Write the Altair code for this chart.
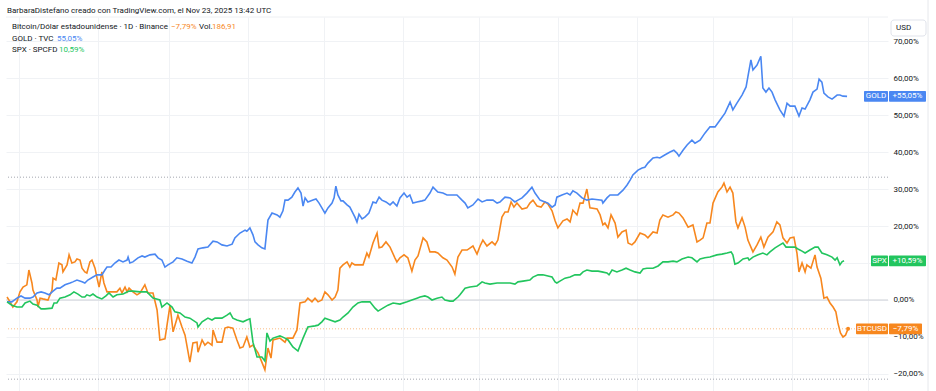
import altair as alt
import pandas as pd

# ---- data (day = days since 2025-01-01, pct = % change) ----
btc_points = [(-4.7,0.8),(-3.5,-0.5),(-2.4,-1.9),(-0.8,-0.5),(0.4,2.2),(1.6,3.5),(3.1,4.1),(3.9,8.1),(5.1,4.6),(5.5,2.7),(7.1,0.0),(7.5,-1.9),(8.3,0.5),(9.4,0.3),(11.4,0.0),(13.0,2.7),(13.4,5.9),(14.5,5.4),(15.7,10.0),(16.9,9.5),(17.3,7.6),(18.9,9.5),(19.7,12.2),(20.8,10.0),(22.0,10.3),(22.8,11.1),(24.0,10.8),(24.8,8.6),(25.9,7.6),(26.7,7.3),(27.9,10.3),(28.7,10.8),(29.9,8.6),(30.7,5.9),(31.5,3.5),(32.6,7.6),(33.4,4.6),(34.6,2.2),(36.6,2.2),(38.5,2.2),(39.7,3.2),(40.5,1.9),(41.7,3.5),(42.5,2.2),(43.3,3.2),(44.8,2.2),(46.4,1.4),(47.6,1.9),(49.5,4.1),(50.7,1.9),(52.7,1.9),(54.3,-2.7),(55.4,-10.8),(57.4,-10.5),(59.4,-1.4),(60.6,-8.6),(62.5,-4.1),(64.1,-7.3),(65.3,-9.5),(67.2,-16.8),(68.4,-11.6),(70.0,-11.4),(70.4,-14.1),(72.0,-10.8),(73.1,-12.2),(74.3,-11.4),(75.9,-12.2),(76.3,-8.1),(77.9,-11.4),(79.8,-11.4),(81.0,-7.6),(82.2,-7.3),(84.1,-7.6),(85.7,-10.8),(86.9,-13.0),(88.1,-12.7),(89.6,-10.0),(90.8,-12.7),(92.0,-12.2),(94.0,-14.3),(95.5,-16.8),(96.7,-18.9),(97.9,-13.0),(99.1,-15.7),(99.9,-10.8),(102.6,-10.3),(104.6,-11.4),(105.4,-10.3),(107.7,-10.3),(109.3,-8.1),(110.5,-0.8),(112.5,-0.5),(113.6,0.5),(115.2,-0.5),(116.4,0.5),(117.6,-0.5),(119.1,0.0),(120.3,2.2),(121.5,1.4),(123.1,0.0),(124.3,0.8),(125.4,2.7),(126.2,8.6),(127.4,9.5),(129.0,10.3),(130.1,8.9),(130.9,10.0),(132.1,9.5),(133.3,9.5),(135.3,9.5),(136.8,12.7),(137.6,11.6),(139.2,15.4),(140.8,18.1),(141.6,14.1),(142.7,14.3),(144.3,15.7),(145.9,14.3),(147.8,11.4),(148.6,10.3),(149.8,11.4),(151.4,12.2),(152.9,11.4),(154.5,7.8),(155.7,10.8),(156.9,11.9),(158.9,16.8),(160.4,15.7),(161.6,13.0),(163.6,13.0),(164.7,12.7),(166.7,11.4),(168.3,10.8),(170.3,8.9),(171.4,7.0),(172.6,11.6),(174.2,13.5),(176.2,13.5),(178.5,14.6),(180.1,12.4),(181.3,14.6),(182.4,16.2),(184.0,14.6),(186.0,15.7),(187.2,14.9),(188.3,16.2),(189.9,22.4),(191.1,23.8),(192.3,23.8),(193.5,26.5),(194.6,25.1),(195.8,26.2),(197.8,24.6),(199.7,24.9),(200.9,26.2),(202.1,27.0),(203.7,25.4),(205.3,25.1),(206.8,26.5),(208.0,25.9),(209.6,24.1),(210.8,21.4),(211.9,19.5),(213.9,21.4),(215.5,21.9),(216.7,21.1),(217.8,24.3),(219.4,23.0),(220.6,26.2),(221.8,26.2),(223.3,30.0),(224.5,24.9),(227.3,24.6),(228.5,23.0),(229.6,20.3),(230.4,20.8),(231.6,19.5),(232.8,23.0),(234.4,20.8),(235.5,17.0),(237.1,18.4),(238.7,18.9),(239.5,15.4),(241.0,14.9),(242.2,15.7),(244.2,18.1),(246.1,17.6),(247.3,16.8),(249.3,18.4),(250.9,18.1),(252.0,21.6),(253.2,23.0),(255.2,22.4),(257.2,23.0),(258.3,23.8),(259.5,23.5),(261.1,22.2),(263.1,19.7),(265.0,20.3),(266.6,15.7),(267.8,16.2),(269.0,16.8),(270.5,20.8),(271.7,20.8),(272.9,26.2),(274.8,29.2),(276.4,30.5),(277.2,31.6),(278.4,29.2),(279.6,30.5),(280.7,28.9),(281.9,21.1),(282.7,19.5),(284.3,22.2),(285.5,19.7),(286.6,16.2),(288.6,13.0),(290.2,14.9),(291.7,17.0),(292.9,14.3),(294.5,17.0),(296.5,18.4),(298.0,21.1),(299.2,20.3),(300.4,16.8),(302.0,15.4),(303.2,16.8),(304.7,17.0),(305.9,12.7),(306.7,7.6),(307.9,10.0),(309.1,7.6),(309.8,9.5),(311.4,8.6),(313.0,12.2),(313.8,8.9),(315.3,5.9),(316.5,0.5),(317.7,0.8),(318.9,-0.8),(320.1,-1.9),(321.2,-3.2),(322.0,-6.2),(323.0,-8.9),(324.0,-10.0),(325.0,-9.5),(326.0,-7.79)]

gold_points = [(-4.7,-0.5),(-2.8,-0.5),(-0.8,0.5),(0.8,1.1),(2.4,0.5),(4.3,0.5),(5.5,0.8),(7.1,1.9),(8.7,2.2),(10.2,1.9),(11.8,1.4),(13.4,2.4),(14.9,3.2),(16.1,3.2),(18.1,4.1),(20.1,4.6),(21.2,4.9),(22.8,5.4),(24.8,4.9),(25.9,4.6),(27.1,5.4),(29.1,6.2),(30.7,6.8),(32.6,6.8),(33.8,8.1),(34.6,8.9),(36.2,8.9),(37.7,10.0),(39.3,10.8),(40.9,10.3),(42.5,10.8),(42.9,11.6),(43.6,10.0),(44.8,10.3),(46.8,11.4),(48.4,11.9),(49.5,11.6),(51.5,12.2),(53.5,12.4),(54.7,11.4),(56.2,10.8),(57.4,8.9),(58.6,9.5),(60.6,10.3),(62.1,11.4),(64.1,11.1),(66.1,10.5),(68.0,10.0),(69.2,11.6),(70.4,13.8),(72.3,14.1),(74.3,14.3),(76.3,15.9),(77.9,15.7),(79.8,14.9),(81.8,14.6),(83.8,15.1),(84.9,16.8),(86.9,18.1),(88.9,18.9),(89.6,18.6),(90.8,19.5),(92.0,17.6),(92.8,15.7),(94.0,14.9),(95.5,14.1),(96.7,13.8),(97.9,21.6),(99.5,23.5),(101.5,23.0),(102.6,22.4),(103.8,24.1),(104.6,27.0),(105.8,27.0),(107.3,27.8),(108.5,29.2),(109.7,30.3),(110.9,28.9),(111.7,25.4),(112.5,27.6),(113.6,26.5),(115.6,27.0),(116.8,27.3),(118.0,26.2),(119.1,24.9),(120.3,23.5),(121.5,24.9),(123.1,26.2),(123.9,27.6),(124.6,30.8),(125.4,28.4),(126.6,26.8),(127.4,26.8),(129.0,25.7),(130.1,25.1),(131.3,23.5),(132.1,22.4),(132.9,21.1),(133.7,23.2),(134.9,21.9),(136.0,22.4),(137.6,23.5),(139.2,26.5),(140.4,26.2),(141.6,27.8),(142.7,27.0),(144.3,26.5),(145.9,25.7),(147.1,26.5),(148.6,25.4),(149.8,27.6),(151.4,28.9),(152.6,27.8),(153.7,28.4),(154.9,26.2),(156.5,26.5),(158.5,26.8),(159.6,27.0),(161.6,28.9),(162.8,30.5),(164.7,29.2),(166.7,28.9),(168.3,28.4),(172.2,28.4),(174.2,27.0),(175.4,26.2),(176.5,24.9),(178.5,25.7),(180.5,27.3),(182.1,26.5),(184.0,27.0),(186.4,27.0),(188.0,26.2),(189.1,26.5),(191.1,27.8),(193.1,27.6),(195.0,26.5),(196.2,27.0),(197.8,27.6),(199.7,28.9),(201.7,30.5),(202.9,28.9),(204.9,27.0),(206.8,26.5),(208.0,26.2),(209.6,25.1),(210.8,25.7),(211.5,27.8),(213.5,28.4),(215.5,28.9),(216.7,28.4),(217.8,29.5),(219.4,28.9),(221.4,27.6),(223.3,27.0),(225.3,27.3),(229.2,27.0),(229.6,26.2),(231.2,27.6),(232.4,28.4),(235.5,28.4),(237.5,29.7),(239.1,31.1),(240.3,32.4),(241.4,33.8),(243.4,35.1),(245.0,35.7),(246.1,35.9),(247.3,37.0),(249.3,38.4),(250.9,38.6),(252.0,38.4),(253.9,39.2),(256.0,40.0),(257.5,40.5),(258.7,39.7),(259.5,38.9),(261.1,40.5),(262.7,41.9),(264.6,43.2),(265.8,42.4),(267.8,43.2),(269.7,45.1),(271.7,46.8),(273.7,46.8),(275.6,48.6),(277.6,50.5),(279.6,53.5),(280.7,51.4),(282.3,53.2),(284.3,55.4),(285.9,57.6),(286.6,60.3),(287.8,64.9),(288.6,62.2),(290.2,63.5),(291.7,65.9),(292.5,57.3),(293.7,56.2),(294.9,57.3),(296.1,56.2),(297.3,54.1),(299.2,51.4),(300.8,49.7),(302.0,53.2),(303.2,52.4),(305.1,52.4),(306.7,49.7),(307.9,51.9),(309.1,51.6),(311.0,54.1),(312.2,56.2),(313.8,57.0),(314.6,59.7),(315.7,58.9),(316.5,55.9),(318.1,54.9),(319.7,54.3),(321.7,55.4),(322.8,55.4),(324.0,55.1),(325.6,55.05)]

spx_points = [(-4.7,-0.5),(-2.8,-1.4),(-0.8,-1.9),(1.2,-1.9),(2.4,-0.8),(4.3,-0.3),(5.5,-1.1),(7.1,-1.4),(8.7,-2.4),(10.2,-2.4),(13.0,-2.2),(13.8,-0.8),(14.9,-0.8),(16.1,0.5),(18.1,0.8),(20.1,1.4),(21.6,2.2),(23.2,1.6),(24.8,0.8),(25.9,0.8),(26.7,1.4),(27.9,1.1),(29.1,1.6),(30.7,0.8),(32.6,0.3),(34.2,1.1),(35.4,1.9),(37.0,0.8),(38.5,1.4),(40.9,1.6),(41.7,1.9),(43.3,2.4),(44.8,2.4),(47.6,2.2),(50.3,2.2),(52.7,0.5),(55.4,0.0),(56.2,-1.9),(58.2,-0.8),(60.2,-1.9),(61.3,-3.2),(63.3,-3.5),(65.3,-4.6),(67.2,-4.9),(70.0,-6.2),(70.4,-7.3),(72.0,-5.9),(74.3,-4.9),(75.9,-5.4),(77.1,-4.9),(79.8,-4.9),(81.8,-4.1),(83.0,-3.5),(84.1,-4.9),(85.7,-5.4),(88.1,-5.9),(89.6,-5.4),(90.8,-5.1),(92.0,-11.4),(93.6,-15.4),(95.5,-15.4),(96.7,-16.5),(97.5,-8.9),(98.7,-11.1),(99.9,-10.3),(102.6,-9.7),(104.6,-10.3),(105.8,-10.8),(107.7,-12.7),(109.7,-13.8),(111.7,-10.3),(113.6,-7.3),(116.4,-7.0),(117.6,-6.8),(119.1,-5.9),(120.3,-4.9),(122.3,-5.4),(124.3,-5.9),(126.2,-5.4),(127.4,-4.6),(129.4,-3.5),(131.3,-1.9),(133.3,-0.8),(134.9,-0.5),(138.0,-0.5),(140.0,-2.2),(141.2,-3.0),(143.1,-2.2),(145.1,-1.4),(147.1,-0.8),(149.8,-1.1),(152.6,-0.5),(154.5,0.0),(156.5,0.5),(157.7,0.8),(159.6,1.1),(160.8,0.8),(162.4,0.0),(164.4,0.5),(166.3,0.8),(167.5,0.0),(169.5,-0.3),(170.7,-0.3),(172.6,0.8),(173.4,1.4),(175.4,3.2),(177.3,3.5),(180.1,3.8),(182.1,4.9),(183.2,4.6),(185.2,4.3),(188.0,4.6),(190.3,4.6),(193.1,4.6),(195.0,4.3),(196.2,4.9),(198.2,5.1),(200.9,5.4),(202.1,6.2),(204.1,6.8),(206.0,6.8),(208.0,6.5),(209.6,6.2),(210.8,4.9),(211.5,4.6),(212.7,5.1),(214.7,5.9),(216.7,6.2),(218.6,6.8),(220.6,6.8),(221.8,7.6),(223.3,8.1),(225.3,7.8),(227.7,7.8),(229.2,7.6),(231.2,7.3),(232.0,6.8),(233.2,8.1),(235.1,7.6),(237.1,8.1),(238.7,8.6),(240.3,8.1),(242.2,7.6),(244.2,7.3),(245.4,8.4),(246.9,8.6),(249.3,8.6),(251.3,9.2),(253.2,10.3),(255.2,10.3),(257.2,10.5),(258.7,10.3),(260.7,11.1),(263.1,11.6),(264.6,11.4),(266.6,10.3),(267.8,11.1),(269.7,11.4),(271.7,11.6),(274.4,12.2),(276.4,12.4),(278.4,12.7),(280.0,13.0),(280.7,12.2),(281.5,9.7),(282.7,10.0),(284.7,11.1),(286.6,11.4),(287.1,10.8),(288.6,11.6),(290.6,12.2),(292.5,12.7),(294.1,12.2),(295.3,13.0),(297.3,14.1),(299.2,14.9),(300.4,15.4),(301.6,14.3),(303.2,14.3),(305.1,14.3),(306.3,13.8),(307.9,13.2),(309.1,12.7),(311.0,13.5),(313.0,14.3),(314.2,14.3),(315.7,12.7),(317.7,12.2),(319.7,11.6),(320.9,10.8),(321.7,11.4),(322.8,9.5),(323.6,10.3),(324.4,10.59)]

month_starts = [0, 31, 59, 90, 120, 151, 181, 212, 243, 273, 304, 334]
y_ticks = [-20, -10, 0, 10, 20, 30, 40, 50, 60, 70]
hidden_tick = 10  # covered by the SPX badge in the original
range_lines = [33.2, -21.4]
series_names = ["BTCUSD", "GOLD", "SPX"]
series_colors = ["#F7871E", "#4A87F2", "#22C55E"]
last_values = [-7.79, 55.05, 10.59]
last_labels = ["−7,79%", "+55,05%", "+10,59%"]

header = "BarbaraDistefano creado con TradingView.com, el Nov 23, 2025 13:42 UTC"

# ---- build table ----
rows = []
for name, pts in zip(series_names, [btc_points, gold_points, spx_points]):
    for d, p in pts:
        rows.append({"series": name, "day": d, "pct": p})
df = pd.DataFrame(rows)

FONT = "Roboto"
DARK = "#131722"
GRID = "#f0f2f5"
W, H = 882, 374
xs = alt.Scale(domain=[-5.1, 341.7], nice=False, zero=False)
ys = alt.Scale(domain=[-24.6, 76.5], nice=False, zero=False)

x_axis = alt.Axis(values=month_starts, grid=True, gridColor=GRID, labels=False,
                  ticks=False, domain=False, title=None, zindex=0)
y_axis = alt.Axis(orient="right", values=y_ticks, grid=True, gridColor=GRID, ticks=False,
                  domain=False, title=None,
                  labelExpr=f"datum.value == {hidden_tick} ? '' : replace(format(datum.value, '.2f'), '.', ',') + '%'",
                  labelFont=FONT, labelFontSize=8, labelColor=DARK, labelPadding=5,
                  labelAlign="left", zindex=0)


def X(field):
    return alt.X(field, scale=xs, axis=x_axis, title=None)


def Y(field):
    return alt.Y(field, scale=ys, axis=y_axis, title=None)


one = pd.DataFrame({"a": [0]})

zero = alt.Chart(pd.DataFrame({"v": [0]})).mark_rule(color="#cfd2d8", strokeWidth=1).encode(
    y=Y("v:Q"))
rng = alt.Chart(pd.DataFrame({"v": range_lines})).mark_rule(
    color="#a3a6af", strokeWidth=1, strokeDash=[1, 2]).encode(y=Y("v:Q"))
lastline = alt.Chart(pd.DataFrame({"v": [last_values[0]]})).mark_rule(
    color=series_colors[0], opacity=0.55, strokeWidth=1, strokeDash=[1, 2]).encode(y=Y("v:Q"))

lines = alt.Chart(df).mark_line(strokeWidth=1.6).encode(
    x=X("day:Q"),
    y=Y("pct:Q"),
    color=alt.Color("series:N", scale=alt.Scale(domain=series_names, range=series_colors), legend=None),
    order="day:Q",
)

end_dot = alt.Chart(pd.DataFrame({"day": [btc_points[-1][0]], "pct": [btc_points[-1][1]]})).mark_circle(
    size=16, color=series_colors[0], opacity=1).encode(x=X("day:Q"), y=Y("pct:Q"))


def badge(value, color, name, name_x0, val_x1, val_text):
    d = pd.DataFrame({"v": [value]})
    base = alt.Chart(d).transform_calculate(top="datum.v + 1.45", bot="datum.v - 1.45")
    r1 = base.mark_rect(color=color, cornerRadius=1).encode(
        x=alt.value(name_x0), x2=alt.value(882), y=Y("top:Q"), y2="bot:Q")
    r2 = base.mark_rect(color=color, cornerRadius=1).encode(
        x=alt.value(883), x2=alt.value(val_x1), y=Y("top:Q"), y2="bot:Q")
    t1 = alt.Chart(d).mark_text(font=FONT, fontSize=8, color="white", align="center",
                                baseline="middle").encode(
        x=alt.value((name_x0 + 882) / 2), y=Y("v:Q"), text=alt.value(name))
    t2 = alt.Chart(d).mark_text(font=FONT, fontSize=8, color="white", align="center",
                                baseline="middle").encode(
        x=alt.value((883 + val_x1) / 2), y=Y("v:Q"), text=alt.value(val_text))
    return [r1, r2, t1, t2]


badges = []
badges += badge(last_values[1], series_colors[1], "GOLD", 858, 920, last_labels[1])
badges += badge(last_values[2], series_colors[2], "SPX", 865, 920, last_labels[2])
badges += badge(last_values[0], series_colors[0], "BTCUSD", 850, 916, last_labels[0])


def txt(s, x, y, color=DARK, size=8):
    return alt.Chart(one).mark_text(font=FONT, fontSize=size, color=color, align="left",
                                    baseline="middle").encode(
        x=alt.value(x), y=alt.value(y), text=alt.value(s))


texts = [
    txt(header, 1, -6.5),
    txt("Bitcoin/Dólar estadounidense · 1D · Binance", 6, 10.3),
    txt("−7,79%", 165, 10.3, series_colors[0]),
    txt("Vol.", 193, 10.3),
    txt("186,91", 206, 10.3, series_colors[0]),
    txt("GOLD · TVC", 6, 21.7),
    txt("55,05%", 51, 21.7, series_colors[1]),
    txt("SPX · SPCFD", 6, 33),
    txt("10,59%", 53, 33, series_colors[2]),
]

usd_box = alt.Chart(one).mark_rect(fill="white", stroke="#e0e3eb", strokeWidth=1, cornerRadius=3).encode(
    x=alt.value(885), x2=alt.value(920), y=alt.value(3), y2=alt.value(19))
usd_txt = txt("USD", 890, 11)
right_border = alt.Chart(one).mark_rule(color="#e6e8ec").encode(
    x=alt.value(922), y=alt.value(-17), y2=alt.value(H))
top_border = alt.Chart(one).mark_rule(color="#eef0f3").encode(
    x=alt.value(0), x2=alt.value(W), y=alt.value(0))

chart = alt.layer(
    zero, rng, lastline, top_border, right_border, lines, end_dot, *badges, usd_box, usd_txt, *texts
).properties(
    width=W, height=H,
    padding={"left": 6, "top": 17, "right": 48, "bottom": 0},
    autosize=alt.AutoSizeParams(type="none"),
    background="white",
).configure_view(stroke=None)

chart.save("out.html", embed_options={"renderer": "svg", "actions": False})
